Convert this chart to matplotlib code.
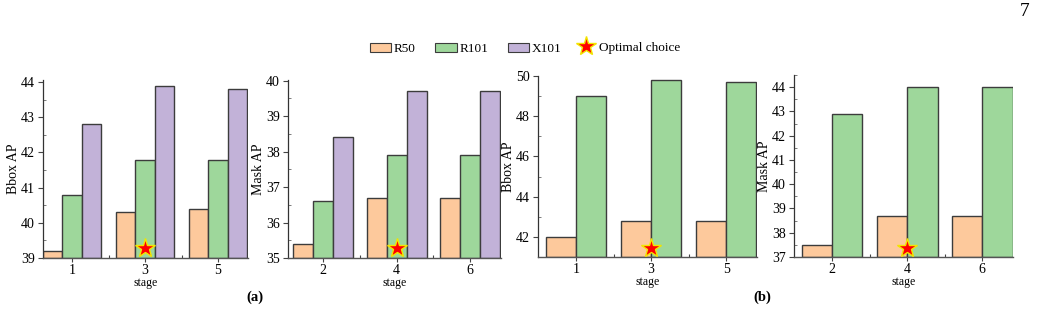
import matplotlib
matplotlib.use("Agg")
import matplotlib.pyplot as plt
import numpy as np
from matplotlib.patches import Patch
from matplotlib.lines import Line2D
from matplotlib.ticker import MultipleLocator, FixedLocator

plt.rcParams['font.family'] = ['Liberation Serif', 'DejaVu Serif']

# ---- data ----
stages_a1 = ["1", "3", "5"]
stages_a2 = ["2", "4", "6"]
stages_b1 = ["1", "3", "5"]
stages_b2 = ["2", "4", "6"]

a_bbox_r50 = [39.2, 40.3, 40.4]
a_bbox_r101 = [40.8, 41.8, 41.8]
a_bbox_x101 = [42.8, 43.9, 43.8]

a_mask_r50 = [35.4, 36.7, 36.7]
a_mask_r101 = [36.6, 37.9, 37.9]
a_mask_x101 = [38.4, 39.7, 39.7]

b_bbox_r50 = [42.0, 42.8, 42.8]
b_bbox_r101 = [49.0, 49.8, 49.7]

b_mask_r50 = [37.5, 38.7, 38.7]
b_mask_r101 = [42.9, 44.0, 44.0]

optimal_idx = 1
star_y = [39.28, 35.28, 41.45, 37.38]

series_names = ["R50", "R101", "X101"]
colors = {"R50": "#FDC99C", "R101": "#9ED79B", "X101": "#C2B2D8"}
edge = "#3c3c3c"

W, H = 1040, 326
fig = plt.figure(figsize=(W / 100, H / 100), dpi=100)


def add_ax(l, r, t, b):
    return fig.add_axes([l / W, (H - b) / H, (r - l) / W, (b - t) / H])


panels = [
    dict(box=(43, 248, 80, 258), cats=stages_a1,
         series=[a_bbox_r50, a_bbox_r101, a_bbox_x101], ylim=(39, 44.06),
         major=1, minor=0.5, ylabel="Bbox AP", gw=0.795, xlim=(-0.397, 2.41)),
    dict(box=(288, 501, 80, 258), cats=stages_a2,
         series=[a_mask_r50, a_mask_r101, a_mask_x101], ylim=(35, 40.02),
         major=1, minor=0.5, ylabel="Mask AP", gw=0.816, xlim=(-0.476, 2.42)),
    dict(box=(538, 757, 76, 257), cats=stages_b1,
         series=[b_bbox_r50, b_bbox_r101], ylim=(41, 50.0),
         major=2, minor=1, ylabel="Bbox AP", gw=0.8, xlim=(-0.507, 2.41)),
    dict(box=(794, 1013, 75, 257), cats=stages_b2,
         series=[b_mask_r50, b_mask_r101], ylim=(37, 44.5),
         major=1, minor=0.5, ylabel="Mask AP", gw=0.81, xlim=(-0.507, 2.41)),
]

for pi, p in enumerate(panels):
    ax = add_ax(*p["box"])
    x = np.arange(len(p["cats"]))
    n = len(p["series"])
    w = p["gw"] / n
    for si, vals in enumerate(p["series"]):
        off = (si - (n - 1) / 2) * w
        ax.bar(x + off, np.array(vals) - p["ylim"][0], width=w,
               bottom=p["ylim"][0], color=colors[series_names[si]],
               edgecolor=edge, linewidth=1.0, zorder=2)
    ax.plot([x[optimal_idx]], [star_y[pi]], marker="*", markersize=15,
            color="red", markeredgecolor="#F2E600", markeredgewidth=1.0,
            linestyle="none", zorder=5, clip_on=False)
    ax.set_xlim(*p["xlim"])
    ax.set_ylim(*p["ylim"])
    ax.set_xticks(x)
    ax.set_xticklabels(p["cats"], fontsize=10)
    ax.xaxis.set_minor_locator(FixedLocator([0.5, 1.5]))
    ax.yaxis.set_major_locator(MultipleLocator(p["major"]))
    ax.yaxis.set_minor_locator(MultipleLocator(p["minor"]))
    ax.tick_params(axis="y", which="major", direction="out", length=3.5,
                   width=0.8, labelsize=10, pad=2.5, color="#444444")
    ax.tick_params(axis="y", which="minor", direction="in", length=2,
                   width=0.6, color="#666666")
    ax.tick_params(axis="x", which="major", direction="out", length=3,
                   width=0.8, labelsize=10, pad=1.5, color="#444444")
    ax.tick_params(axis="x", which="minor", direction="in", length=2.5,
                   width=0.8, color="#444444")
    for s in ["top", "right"]:
        ax.spines[s].set_visible(False)
    ax.spines["left"].set_color("#333333")
    ax.spines["bottom"].set_color("#555555")
    ax.spines["left"].set_linewidth(0.9)
    ax.spines["bottom"].set_linewidth(1.0)
    ax.set_ylabel(p["ylabel"], fontsize=10, labelpad=0.5)
    ax.set_xlabel("stage", fontsize=8.5, labelpad=0)

handles = [Patch(facecolor=colors[s], edgecolor=edge, linewidth=0.8, label=s)
           for s in series_names]
star_handle = Line2D([], [], marker="*", markersize=15, color="red",
                     markeredgecolor="#F2E600", markeredgewidth=1.0,
                     linestyle="none", label="Optimal choice")
fig.legend(handles=handles, loc="center left", ncol=3,
           bbox_to_anchor=(370 / W, 1 - 49 / H), frameon=False,
           fontsize=9.5, handlelength=1.6, handleheight=0.75,
           handletextpad=0.2, columnspacing=1.5, borderpad=0,
           borderaxespad=0)
fig.legend(handles=[star_handle], loc="center left", ncol=1,
           bbox_to_anchor=(575 / W, 1 - 48 / H), frameon=False,
           fontsize=9.5, handlelength=1.6, handletextpad=0.2, borderpad=0,
           borderaxespad=0)

fig.text(255 / W, 1 - 297 / H, "(a)", fontsize=10.5, fontweight="bold",
         ha="center", va="center")
fig.text(762 / W, 1 - 297 / H, "(b)", fontsize=10.5, fontweight="bold",
         ha="center", va="center")
fig.text(1025 / W, 1 - 12 / H, "7", fontsize=14, ha="center", va="center")

fig.savefig("out.png", dpi=100)
